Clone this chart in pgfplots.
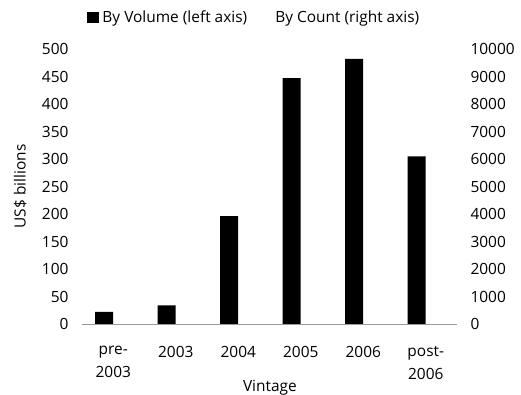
\documentclass[border=0pt]{standalone}
\usepackage{pgfplots}
\pgfplotsset{compat=1.18}
\usepackage{fontspec}
\setmainfont{Open Sans}
\begin{document}
\begin{tikzpicture}[font=\fontsize{15.5}{22}\selectfont]
\useasboundingbox (-82bp,-71bp) rectangle (439bp,324bp);
\begin{axis}[
 scale only axis, width=375bp, height=275bp,
 at={(0,0)}, anchor=south west,
 xmin=-0.5, xmax=5.5, ymin=0, ymax=500,
 ytick={0,50,...,500},
 xtick={0,...,5},
 xticklabels={pre-\\[1bp]2003,2003,2004,2005,2006,post-\\[1bp]2006},
 minor xtick={-0.5,0.5,...,5.5},
 axis x line*=bottom, axis y line*=left,
 x axis line style={draw=gray!80},
 y axis line style={draw=none},
 xtick style={draw=none},
 ytick style={draw=none},
 minor tick style={draw=gray!80},
 minor tick length=5bp, tick align=outside,
 major tick length=0pt,
 xticklabel style={align=center, anchor=north, yshift=-19bp, text depth=0pt},
 yticklabel style={anchor=east, xshift=-10bp},
 /pgf/number format/assume math mode=true,
 ylabel={US\$ billions},
 ylabel style={at={(axis description cs:-0.165,0.5)}, anchor=center},
 xlabel={Vintage},
 xlabel style={at={(axis description cs:0.501,-0.232)}, anchor=center},
 legend style={draw=none, fill=none, at={(axis description cs:0.461,1.116)}, anchor=center,
   nodes={inner xsep=3bp},
   /tikz/every even column/.append style={column sep=10bp}},
 legend columns=2,
]
\addplot[ybar, fill=black, draw=none, bar width=18bp, bar shift=-9bp,
  legend image code/.code={\fill[black] (0bp,-5.5bp) rectangle (12bp,5.5bp);}]
  coordinates {(0,22) (1,34) (2,196) (3,447) (4,482) (5,305)};
\addlegendentry{By Volume (left axis)}
\addlegendimage{draw=none, fill=none, legend image code/.code={\path[draw=none,fill=none] (0bp,-5.5bp) rectangle (12bp,5.5bp);}}
\addlegendentry{By Count (right axis)}
\end{axis}
\begin{axis}[
 scale only axis, width=375bp, height=275bp,
 at={(0,0)}, anchor=south west,
 xmin=-0.5, xmax=5.5, ymin=0, ymax=10000,
 ytick={0,1000,...,10000},
 scaled y ticks=false,
 axis x line=none, axis y line*=right,
 y axis line style={draw=none},
 ytick style={draw=none}, major tick length=0pt,
 yticklabel style={anchor=west, xshift=10bp},
 /pgf/number format/assume math mode=true,
 /pgf/number format/1000 sep={},
]
\end{axis}
\end{tikzpicture}
\end{document}
